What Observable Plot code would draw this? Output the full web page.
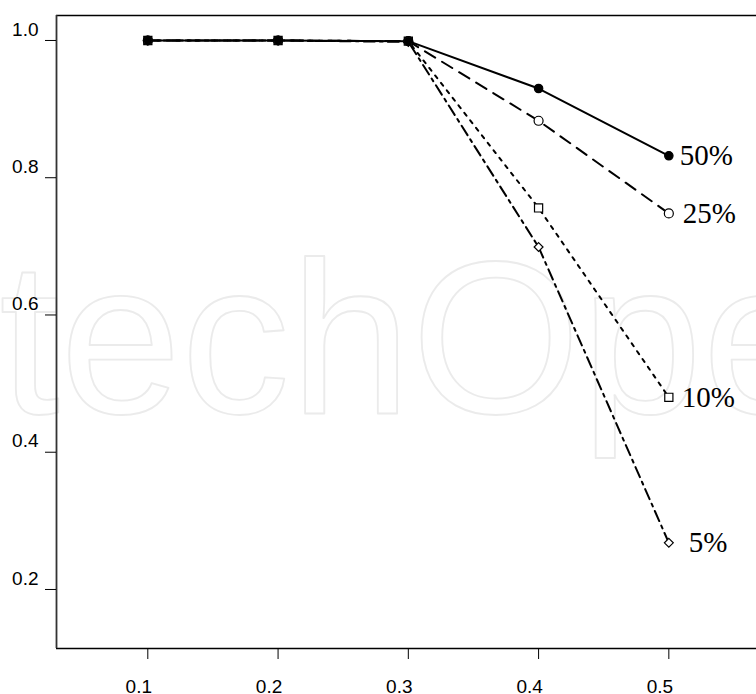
<!DOCTYPE html>
<html>
<head>
<meta charset="utf-8">
<script src="https://cdn.jsdelivr.net/npm/d3@7"></script>
<script src="https://cdn.jsdelivr.net/npm/@observablehq/plot@0.6"></script>
<style>
  html, body { margin: 0; padding: 0; background: #fff; }
</style>
</head>
<body>
<div id="chart"></div>
<script>
// ---- data ----
const xValues = [0.1, 0.2, 0.3, 0.4, 0.5];
const series50 = [1.0, 1.0, 0.999, 0.930, 0.832];
const series25 = [1.0, 1.0, 0.999, 0.883, 0.748];
const series10 = [1.0, 1.0, 0.999, 0.756, 0.480];
const series5  = [1.0, 1.0, 0.998, 0.699, 0.268];
const seriesNames = ["50%", "25%", "10%", "5%"];
const xTicks = [0.1, 0.2, 0.3, 0.4, 0.5];
const yTicks = [0.2, 0.4, 0.6, 0.8, 1.0];
const watermark = "IntechOpen";

// ---- build table ----
const valuesByName = {"50%": series50, "25%": series25, "10%": series10, "5%": series5};
const rows = name => xValues.map((x, i) => ({x, y: valuesByName[name][i], name}));

const styles = {
  "5%":  {dash: "11,5,3,5", symbol: "diamond2", r: 4, fill: "white", labelDx: 20},
  "10%": {dash: "3.5,6",   symbol: "square",   r: 4.6, fill: "white", labelDx: 13},
  "25%": {dash: "12,8",    symbol: "circle",   r: 4.5, fill: "white", labelDx: 14},
  "50%": {dash: null,      symbol: "circle",   r: 4.2, fill: "black", labelDx: 11}
};

const xDomain = [0.0299, 0.5673];
const yDomain = [0.114, 1.0364];
const sans = "Liberation Sans, Arial, sans-serif";

const drawOrder = ["5%", "10%", "25%", "50%"];
const marks = [
  Plot.text([watermark], {
    frameAnchor: "top-left", text: d => d, textAnchor: "start", lineAnchor: "middle",
    dx: -239, dy: 328, fontSize: 218, fontFamily: sans,
    fill: "none", stroke: "#ebebeb", strokeWidth: 1.8
  })
];
for (const name of drawOrder) {
  const st = styles[name];
  marks.push(Plot.line(rows(name), {
    x: "x", y: "y", stroke: "black", strokeWidth: 2,
    strokeDasharray: st.dash || undefined
  }));
}
for (const name of drawOrder) {
  const st = styles[name];
  marks.push(Plot.dot(rows(name), {
    x: "x", y: "y", symbol: st.symbol, r: st.r,
    fill: st.fill, stroke: "black", strokeWidth: 1.2
  }));
}
for (const name of drawOrder) {
  const st = styles[name];
  const last = rows(name).slice(-1);
  marks.push(Plot.text(last, {
    x: "x", y: "y", text: "name", textAnchor: "start", lineAnchor: "middle",
    dx: st.labelDx, fontSize: 29, fontFamily: "Liberation Serif, 'Times New Roman', serif",
    fill: "black"
  }));
}
marks.push(
  Plot.ruleY([yDomain[1]], {stroke: "black", strokeWidth: 1.5}),
  Plot.ruleY([yDomain[0]], {stroke: "black", strokeWidth: 1.5}),
  Plot.ruleX([xDomain[0]], {stroke: "#333", strokeWidth: 1.8}),
  // x axis: tick marks only
  Plot.axisX(xTicks, {
    tickSize: 11, label: null, tickFormat: () => "", stroke: "black"
  }),
  // x axis: labels, slightly left of the ticks
  Plot.axisX(xTicks, {
    tickSize: 0, tickPadding: 31, fontSize: 19, label: null, dx: -9,
    tickFormat: d3.format(".1f")
  }),
  // y axis: tick marks only
  Plot.axisY(yTicks, {
    tickSize: 11, label: null, tickFormat: () => "", stroke: "black"
  }),
  // y axis: labels only, raised above the ticks
  Plot.axisY(yTicks, {
    tickSize: 0, tickPadding: 18, fontSize: 19, label: null, dy: -11,
    tickFormat: d3.format(".1f")
  })
);

const chart = Plot.plot({
  width: 756,
  height: 694,
  marginLeft: 56,
  marginRight: 0,
  marginTop: 15,
  marginBottom: 46,
  style: {background: "white", fontFamily: sans, fontSize: "19px", color: "black"},
  x: {domain: xDomain, label: null},
  y: {domain: yDomain, label: null},
  marks
});
document.getElementById("chart").appendChild(chart);
</script>
</body>
</html>
